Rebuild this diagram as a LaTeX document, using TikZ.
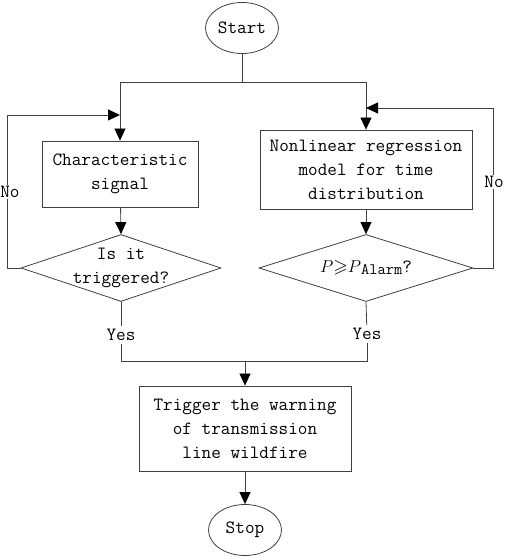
\documentclass[tikz,border=0pt]{standalone}
\usepackage{amssymb}
\usetikzlibrary{shapes.geometric,arrows.meta}

\begin{document}
\begin{tikzpicture}[x=1pt,y=1pt,
  every node/.style={font=\ttfamily\fontsize{18.7}{24}\selectfont,align=center},
  terminal/.style={ellipse,draw=black!75,line width=0.8pt,minimum width=73pt,minimum height=51pt,inner sep=0pt},
  procbox/.style={rectangle,draw=black!75,line width=0.8pt,inner sep=0pt},
  decision/.style={diamond,draw=black!75,line width=0.8pt,inner sep=0pt},
  line/.style={draw=black!75,line width=0.8pt},
  arrow/.style={line,-{Triangle[length=12pt,width=11pt,black]}},
  tag/.style={fill=white,inner sep=1pt},
  yestag/.style={inner sep=3pt}]
\useasboundingbox (0,0) rectangle (505,558);
% terminals and steps
\node[terminal] (start) at (242,530) {Start};
\node[procbox,minimum width=156pt,minimum height=66pt] (sig) at (120,384) {Characteristic\\signal};
\node[procbox,minimum width=212pt,minimum height=79pt] (model) at (366,388.5) {Nonlinear regression\\model for time\\distribution};
\node[decision,minimum width=200pt,minimum height=67pt,label={center:Is it\\triggered?}] (trig) at (121,290) {};
\node[decision,minimum width=214pt,minimum height=67pt,label={center:$P{\geqslant}P$\raisebox{-2pt}{\fontsize{16}{16}\selectfont Alarm}?}] (thr) at (366,290) {};
\node[procbox,minimum width=212pt,minimum height=85pt] (warn) at (245,129.5) {Trigger the warning\\of transmission\\line wildfire};
\node[terminal] (stop) at (245,28) {Stop};
% split after start
\coordinate (split) at (242,476);
\coordinate (lsplit) at (120,476);
\coordinate (rsplit) at (366,476);
\draw[line] (start.south) -- (split);
\draw[line] (lsplit) -- (rsplit);
\draw[arrow] (lsplit) -- (sig.north);
\draw[arrow] (rsplit) -- (model.north);
\draw[arrow] (sig) -- (trig.north);
\draw[arrow] (model) -- (thr.north);
% feedback loops
\coordinate (lin) at (120,443);
\coordinate (rin) at (366,450);
\draw[arrow] (trig.west) -- ++(-13,0) |- (lin);
\draw[arrow] (thr.east) -- ++(20,0) |- (rin);
\node[tag] (nol) at (10,366) {No};
\node[tag] (nor) at (494,376) {No};
% yes branches
\node[yestag] (yesl) at (121,223) {Yes};
\node[yestag] (yesr) at (367,224) {Yes};
\coordinate (ljoin) at (121,197);
\coordinate (rjoin) at (367,197);
\coordinate (join) at (245,197);
\draw[line] (trig.south) -- (yesl);
\draw[line] (thr.south) -- (yesr);
\draw[line] (yesl) -- (ljoin) -- (rjoin) -- (yesr);
\draw[arrow] (join) -- (warn.north);
\draw[arrow] (warn) -- (stop);
\end{tikzpicture}
\end{document}
